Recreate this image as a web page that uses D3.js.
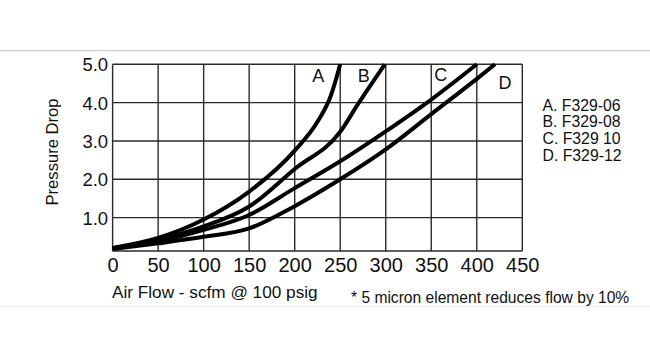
<!DOCTYPE html>
<html>
<head>
<meta charset="utf-8">
<script src="https://cdn.jsdelivr.net/npm/d3@7"></script>
<style>
  html, body { margin: 0; padding: 0; background: #fff; }
  svg { display: block; }
  text { font-family: "Liberation Sans", Arial, sans-serif; fill: #111; }
</style>
</head>
<body>
<div id="chart"></div>
<script>
// ---- data ----
const xTicks = [0, 50, 100, 150, 200, 250, 300, 350, 400, 450];
const yTicks = [1.0, 2.0, 3.0, 4.0, 5.0];
const seriesNames = ["A", "B", "C", "D"];
const legendLabels = ["A. F329-06", "B. F329-08", "C. F329 10", "D. F329-12"];

const flowA = [0, 50, 100, 150, 200, 225, 240, 250];
const dropA = [0.21, 0.47, 0.95, 1.68, 2.75, 3.5, 4.2, 5.0];
const flowB = [0, 50, 100, 150, 200, 250, 270, 299];
const dropB = [0.2, 0.42, 0.77, 1.29, 2.27, 3.24, 3.98, 5.0];
const flowC = [0, 50, 100, 150, 200, 250, 300, 350, 400];
const dropC = [0.2, 0.38, 0.68, 1.07, 1.77, 2.47, 3.25, 4.08, 5.0];
const flowD = [0, 50, 100, 150, 200, 250, 300, 350, 400, 420];
const dropD = [0.18, 0.33, 0.5, 0.72, 1.3, 2.0, 2.78, 3.7, 4.62, 5.0];

// label anchor positions along the flow axis / pressure axis
const labelFlow = [226, 276, 360.5, 431];
const labelDrop = [4.7, 4.7, 4.72, 4.5];

const xTitle = "Air Flow - scfm @ 100 psig";
const yTitle = "Pressure Drop";
const footnote = "* 5 micron element reduces flow by 10%";

// ---- chart ----
const W = 650, H = 357;
const svg = d3.select("#chart").append("svg").attr("width", W).attr("height", H);
svg.append("rect").attr("width", W).attr("height", H).attr("fill", "#fff");

// decorative rules
svg.append("line").attr("x1", 0).attr("x2", W).attr("y1", 50.5).attr("y2", 50.5)
  .attr("stroke", "#d2d2d2").attr("stroke-width", 1.5);
svg.append("line").attr("x1", 0).attr("x2", W).attr("y1", 306.5).attr("y2", 306.5)
  .attr("stroke", "#efefef").attr("stroke-width", 1);

const x = d3.scaleLinear().domain([0, 450]).range([112.6, 522.3]);
const y = d3.scaleLinear().domain([0.13, 5]).range([251, 64.3]);

// grid
const g = svg.append("g");
g.selectAll(".vg").data(xTicks).join("line")
  .attr("x1", d => x(d)).attr("x2", d => x(d))
  .attr("y1", y(5)).attr("y2", y.range()[0])
  .attr("stroke", "#2a2a2a").attr("stroke-width", 1.4);
g.selectAll(".hg").data(yTicks).join("line")
  .attr("x1", x(0)).attr("x2", x(450))
  .attr("y1", d => y(d)).attr("y2", d => y(d))
  .attr("stroke", "#2a2a2a").attr("stroke-width", 1.4);
g.append("line").attr("x1", x(0)).attr("x2", x(450))
  .attr("y1", y.range()[0]).attr("y2", y.range()[0])
  .attr("stroke", "#2a2a2a").attr("stroke-width", 1.6);

// axes via d3 (labels only)
const xAxis = d3.axisBottom(x).tickValues(xTicks).tickSize(0).tickPadding(0).tickFormat(d3.format("d"));
const xa = svg.append("g").attr("transform", `translate(0,${y.range()[0]})`).call(xAxis);
xa.select(".domain").remove();
xa.selectAll("text").attr("font-size", 20).attr("font-family", "Liberation Sans, Arial, sans-serif")
  .attr("fill", "#111").attr("dy", null).attr("y", 20.7);

const yAxis = d3.axisLeft(y).tickValues(yTicks).tickSize(0).tickPadding(0).tickFormat(d3.format(".1f"));
const ya = svg.append("g").attr("transform", `translate(${x(0) - 4.5},0)`).call(yAxis);
ya.select(".domain").remove();
ya.selectAll("text").attr("font-size", 18.5).attr("font-family", "Liberation Sans, Arial, sans-serif")
  .attr("fill", "#111").attr("dy", "0.36em");

// curves
const series = [
  flowA.map((f, i) => [f, dropA[i]]),
  flowB.map((f, i) => [f, dropB[i]]),
  flowC.map((f, i) => [f, dropC[i]]),
  flowD.map((f, i) => [f, dropD[i]])
];
const line = d3.line().x(d => x(d[0])).y(d => y(d[1])).curve(d3.curveMonotoneX);
svg.append("g").selectAll("path").data(series).join("path")
  .attr("d", line).attr("fill", "none").attr("stroke", "#000")
  .attr("stroke-width", 4).attr("stroke-linecap", "butt");

// curve labels
svg.append("g").selectAll("text").data(seriesNames).join("text")
  .attr("x", (d, i) => x(labelFlow[i]))
  .attr("y", (d, i) => y(labelDrop[i]))
  .attr("text-anchor", "middle").attr("dominant-baseline", "central")
  .attr("font-size", 18)
  .text(d => d);

// legend
svg.append("g").selectAll("text").data(legendLabels).join("text")
  .attr("x", 542.5).attr("y", (d, i) => 110.7 + i * 16.7)
  .attr("font-size", 15.8).text(d => d);

// titles
svg.append("text").attr("x", 112).attr("y", 298.3).attr("font-size", 17.2).text(xTitle);
svg.append("text").attr("transform", "translate(58,152) rotate(-90)")
  .attr("text-anchor", "middle").attr("font-size", 16.6).text(yTitle);
svg.append("text").attr("x", 351).attr("y", 303.3).attr("font-size", 15.6).text(footnote);
</script>
</body>
</html>
